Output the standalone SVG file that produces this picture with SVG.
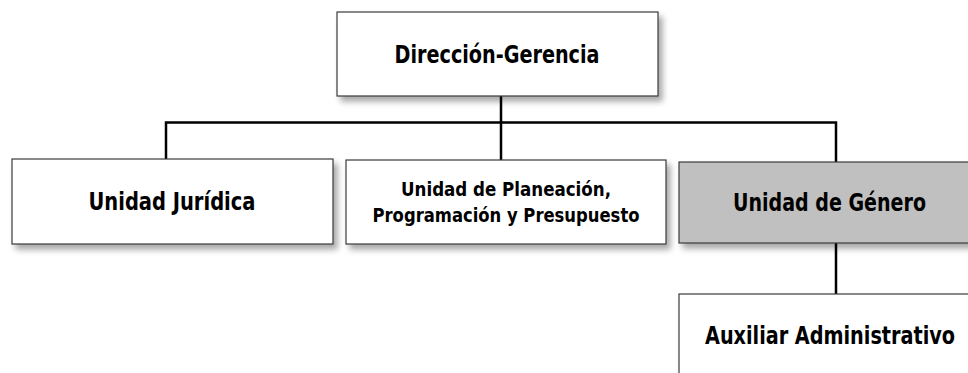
<svg xmlns="http://www.w3.org/2000/svg" width="968" height="373" viewBox="0 0 968 373">
  <defs>
    <filter id="sh" x="-10%" y="-10%" width="130%" height="140%">
      <feGaussianBlur in="SourceAlpha" stdDeviation="3"/>
      <feOffset dx="4" dy="5" result="b"/>
      <feComponentTransfer><feFuncA type="linear" slope="0.35"/></feComponentTransfer>
      <feMerge><feMergeNode/><feMergeNode in="SourceGraphic"/></feMerge>
    </filter>
  </defs>
  <style>
    .box { fill: #ffffff; stroke: #3a3a3a; stroke-width: 1.2; filter: url(#sh); }
    .gray { fill: #c0c0c0; }
    .lbl { font-family: "DejaVu Sans Condensed", "DejaVu Sans", sans-serif; font-weight: bold; fill: #000; text-anchor: middle; }
    .big { font-size: 24px; }
    .small { font-size: 19.5px; }
    .conn { stroke: #000; stroke-width: 2.5; fill: none; }
  </style>
  <rect width="968" height="373" fill="#ffffff"/>
  <g id="connectors">
    <path class="conn" d="M501 96 V122.5 M166 159 V122.5 H836 V162 M501 122.5 V160 M836 243 V294"/>
  </g>
  <g id="direccion">
    <rect class="box" x="337" y="12" width="321" height="84"/>
    <text class="lbl big" x="497" y="62.5" textLength="205" lengthAdjust="spacingAndGlyphs">Dirección-Gerencia</text>
  </g>
  <g id="juridica">
    <rect class="box" x="12" y="159" width="321" height="85"/>
    <text class="lbl big" x="172" y="210" textLength="167" lengthAdjust="spacingAndGlyphs">Unidad Jurídica</text>
  </g>
  <g id="planeacion">
    <rect class="box" x="346" y="160" width="320" height="84"/>
    <text class="lbl small" x="506" y="196" textLength="210" lengthAdjust="spacingAndGlyphs">Unidad de Planeación,</text>
    <text class="lbl small" x="506" y="222" textLength="267" lengthAdjust="spacingAndGlyphs">Programación y Presupuesto</text>
  </g>
  <g id="genero">
    <rect class="box gray" x="679" y="162" width="305" height="81"/>
    <text class="lbl big" x="829.5" y="211" textLength="193" lengthAdjust="spacingAndGlyphs">Unidad de Género</text>
  </g>
  <g id="auxiliar">
    <rect class="box" x="679" y="294" width="305" height="100"/>
    <text class="lbl big" x="830" y="344" textLength="250" lengthAdjust="spacingAndGlyphs">Auxiliar Administrativo</text>
  </g>
</svg>
